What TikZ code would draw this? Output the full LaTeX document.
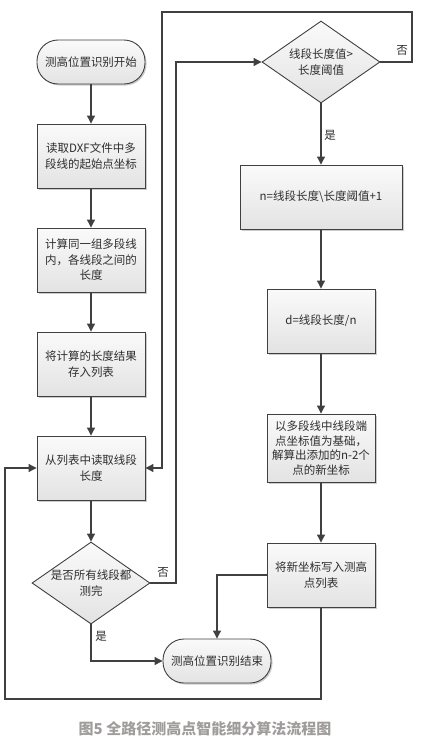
\documentclass[tikz,border=0pt]{standalone}
\usepackage{fontspec}
\setmainfont{Noto Sans CJK SC}
\usepackage{tikz}
\usetikzlibrary{shapes.geometric, arrows.meta, shadows}
\definecolor{linegray}{HTML}{404040}
\definecolor{textgray}{HTML}{2E2E2E}
\definecolor{capgray}{HTML}{A09C9C}
\tikzstyle{startstop} = [rectangle, rounded corners=21pt, minimum width=108pt, minimum height=44pt, text centered, draw=linegray, line width=0.9pt, top color=gray!4, bottom color=gray!22, drop shadow={shadow xshift=1.5pt, shadow yshift=-1.5pt, fill=black!40}]
\tikzstyle{process} = [rectangle, minimum width=108pt, minimum height=64pt, text centered, align=center, draw=linegray, line width=0.9pt, top color=gray!4, bottom color=gray!22, drop shadow={shadow xshift=1.5pt, shadow yshift=-1.5pt, fill=black!40}]
\tikzstyle{decision} = [diamond, shape aspect=1.44, minimum width=118pt, minimum height=82pt, inner sep=-2pt, align=center, draw=linegray, line width=0.9pt, top color=gray!4, bottom color=gray!22]
\tikzstyle{arrow} = [line width=1.1pt, draw=linegray, -{Triangle[length=8pt, width=8pt]}]
\tikzstyle{line} = [line width=1.1pt, draw=linegray]

\begin{document}
\begin{tikzpicture}[x=1pt, y=1pt, node distance=104pt, font=\fontsize{11.5}{15.5}\selectfont, text=textgray]
			\useasboundingbox (0,0) rectangle (428,-744);
			\node(start)[startstop] at (91,-62) {测高位置识别开始};
			\node(readdxf)[process, below of=start, yshift=10pt]{读取DXF文件中多\\段线的起始点坐标};
			\node(calclen)[process, below of=readdxf]{计算同一组多段线\\内，各线段之间的\\长度};
			\node(savelist)[process, below of=calclen]{将计算的长度结果\\存入列表};
			\node(readlen)[process, below of=savelist]{从列表中读取线段\\长度};
			\node(alldone)[decision, below of=readlen, yshift=-11pt]{是否所有线段都\\测完};
			\node(stop)[startstop] at (217,-661) {测高位置识别结束};
			\node(thresh)[decision] at (321,-62) {线段长度值>\\长度阈值};
			\node(segnum)[process, below of=thresh, yshift=-31pt, minimum width=162pt]{n=线段长度\textbackslash 长度阈值+1};
			\node(segstep)[process, below of=segnum, yshift=-20pt]{d=线段长度/n};
			\node(newpts)[process, below of=segstep, yshift=-23pt, minimum height=68pt, font=\fontsize{11.5}{14.5}\selectfont]{以多段线中线段端\\点坐标值为基础，\\解算出添加的n-2个\\点的新坐标};
			\node(writelist)[process, below of=newpts, yshift=-23pt]{将新坐标写入测高\\点列表};
			\node(caption)[text=capgray, font=\fontsize{15}{18}\selectfont\bfseries] at (205,-729) {图5 全路径测高点智能细分算法流程图};

			\coordinate (noturn) at (176,-62);
			\coordinate (topright) at (412,-12);
			\coordinate (topleft) at (162,-12);
			\coordinate (bottomleft) at (5,-699);

			\draw [arrow] (start) -- (readdxf);
			\draw [arrow] (readdxf) -- (calclen);
			\draw [arrow] (calclen) -- (savelist);
			\draw [arrow] (savelist) -- (readlen);
			\draw [arrow] (readlen) -- (alldone);
			\draw [arrow] (alldone.south) |- (stop.west);
			\draw [arrow] (alldone.east) -| (noturn) -- (thresh.west);
			\draw [arrow] (thresh.east) -| (topright) -- (topleft) |- (readlen.east);
			\draw [arrow] (thresh) -- (segnum);
			\draw [arrow] (segnum) -- (segstep);
			\draw [arrow] (segstep) -- (newpts);
			\draw [arrow] (newpts) -- (writelist);
			\draw [arrow] (writelist.west) -| (stop.north);
			\draw [arrow] (writelist.south) |- (bottomleft) |- (readlen.west);

			% Labels
			\node(yes1) at (101,-636) {是};
			\node(no1) at (163,-572) {否};
			\node(yes2) at (330,-135) {是};
			\node(no2) at (402,-50) {否};
		\end{tikzpicture}
\end{document}
